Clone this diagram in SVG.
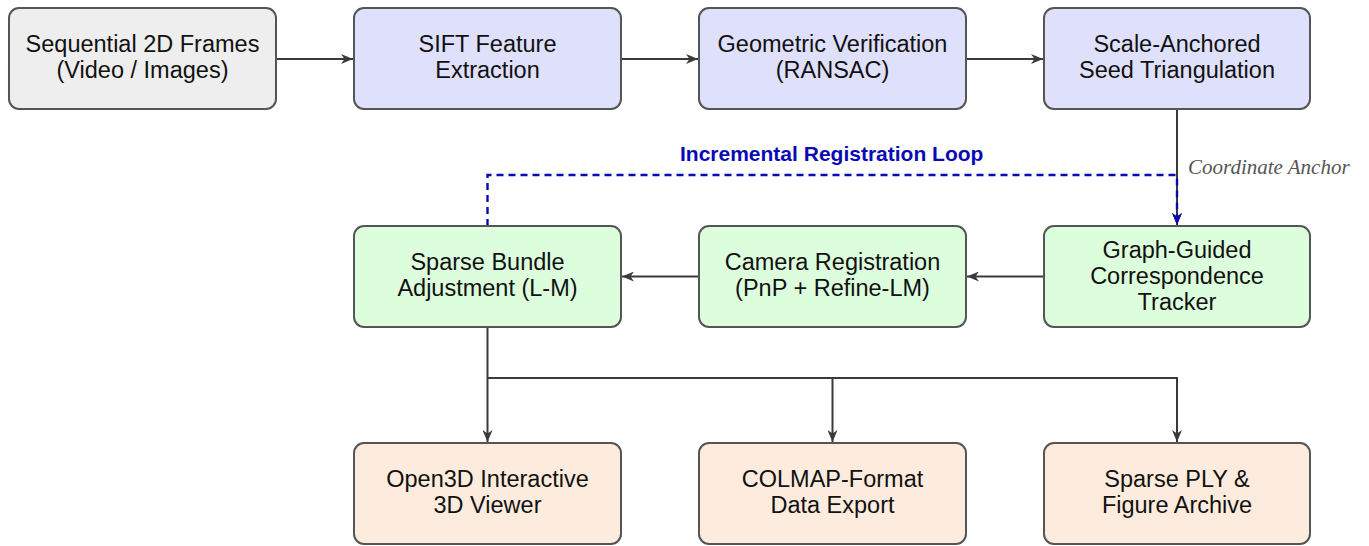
<svg xmlns="http://www.w3.org/2000/svg" width="1369" height="546" viewBox="0 0 1369 546">
  <defs>
    <style>
      .box { stroke: #555555; stroke-width: 2; }
      .input { fill: #eeeeee; }
      .front { fill: #dfe0fb; }
      .core { fill: #ddfedd; }
      .out { fill: #fdecdd; }
      .lbl { font-family: "Liberation Sans", Arial, sans-serif; font-size: 23.5px; fill: #111111; text-anchor: middle; }
      .edge { fill: none; stroke: #3a3a3a; stroke-width: 2; }
      .loop { fill: none; stroke: #0a0ab4; stroke-width: 2.4; stroke-dasharray: 7 5; }
      .loop-lbl { font-family: "Liberation Sans", Arial, sans-serif; font-size: 21px; font-weight: bold; fill: #0a0ab4; }
      .note { font-family: "Liberation Serif", "Times New Roman", serif; font-size: 21px; font-style: italic; fill: #555555; }
    </style>
    <marker id="arrow" viewBox="0 0 12 10" refX="12" refY="5" markerWidth="12" markerHeight="10" markerUnits="userSpaceOnUse" orient="auto">
      <path d="M0,0 L12,5 L0,10 L3.5,5 Z" fill="#3a3a3a"/>
    </marker>
    <marker id="arrow-blue" viewBox="0 0 12 10" refX="12" refY="5" markerWidth="12" markerHeight="10" markerUnits="userSpaceOnUse" orient="auto">
      <path d="M0,0 L12,5 L0,10 L3.5,5 Z" fill="#0a0ab4"/>
    </marker>
  </defs>

  <rect width="1369" height="546" fill="#ffffff"/>

  <!-- connectors -->
  <g id="connectors">
    <line class="edge" x1="276" y1="59" x2="353" y2="59" marker-end="url(#arrow)"/>
    <line class="edge" x1="621" y1="59" x2="698" y2="59" marker-end="url(#arrow)"/>
    <line class="edge" x1="966" y1="59" x2="1043" y2="59" marker-end="url(#arrow)"/>
    <line class="edge" x1="1177" y1="109" x2="1177" y2="225" marker-end="url(#arrow)"/>
    <line class="edge" x1="1044" y1="276.5" x2="967" y2="276.5" marker-end="url(#arrow)"/>
    <line class="edge" x1="699" y1="276.5" x2="622" y2="276.5" marker-end="url(#arrow)"/>
    <!-- fan-out to outputs -->
    <line class="edge" x1="487.5" y1="327" x2="487.5" y2="442" marker-end="url(#arrow)"/>
    <line class="edge" x1="487.5" y1="378" x2="1177" y2="378"/>
    <line class="edge" x1="832.5" y1="378" x2="832.5" y2="442" marker-end="url(#arrow)"/>
    <line class="edge" x1="1177" y1="377" x2="1177" y2="442" marker-end="url(#arrow)"/>
    <!-- incremental loop -->
    <path class="loop" d="M487.5,226 V175 H1177 V225" marker-end="url(#arrow-blue)"/>
    <text class="loop-lbl" x="680" y="161">Incremental Registration Loop</text>
    <text class="note" x="1188" y="174">Coordinate Anchor</text>
  </g>

  <g id="frames">
    <rect class="box input" x="9" y="8" width="267" height="101" rx="10"/>
    <text class="lbl" x="142.5" y="52">Sequential 2D Frames</text>
    <text class="lbl" x="142.5" y="78">(Video / Images)</text>
  </g>
  <g id="sift">
    <rect class="box front" x="354" y="8" width="267" height="101" rx="10"/>
    <text class="lbl" x="487.5" y="52">SIFT Feature</text>
    <text class="lbl" x="487.5" y="78">Extraction</text>
  </g>
  <g id="ransac">
    <rect class="box front" x="699" y="8" width="267" height="101" rx="10"/>
    <text class="lbl" x="832.5" y="52">Geometric Verification</text>
    <text class="lbl" x="832.5" y="78">(RANSAC)</text>
  </g>
  <g id="seed">
    <rect class="box front" x="1044" y="8" width="266" height="101" rx="10"/>
    <text class="lbl" x="1177" y="52">Scale-Anchored</text>
    <text class="lbl" x="1177" y="78">Seed Triangulation</text>
  </g>

  <g id="bundle">
    <rect class="box core" x="354" y="226" width="267" height="101" rx="10"/>
    <text class="lbl" x="487.5" y="270">Sparse Bundle</text>
    <text class="lbl" x="487.5" y="296">Adjustment (L-M)</text>
  </g>
  <g id="register">
    <rect class="box core" x="699" y="226" width="267" height="101" rx="10"/>
    <text class="lbl" x="832.5" y="270">Camera Registration</text>
    <text class="lbl" x="832.5" y="296">(PnP + Refine-LM)</text>
  </g>
  <g id="tracker">
    <rect class="box core" x="1044" y="226" width="266" height="101" rx="10"/>
    <text class="lbl" x="1177" y="258">Graph-Guided</text>
    <text class="lbl" x="1177" y="284">Correspondence</text>
    <text class="lbl" x="1177" y="310">Tracker</text>
  </g>

  <g id="viewer">
    <rect class="box out" x="354" y="443" width="267" height="101" rx="10"/>
    <text class="lbl" x="487.5" y="487">Open3D Interactive</text>
    <text class="lbl" x="487.5" y="513">3D Viewer</text>
  </g>
  <g id="colmap">
    <rect class="box out" x="699" y="443" width="267" height="101" rx="10"/>
    <text class="lbl" x="832.5" y="487">COLMAP-Format</text>
    <text class="lbl" x="832.5" y="513">Data Export</text>
  </g>
  <g id="archive">
    <rect class="box out" x="1044" y="443" width="266" height="101" rx="10"/>
    <text class="lbl" x="1177" y="487">Sparse PLY &amp;</text>
    <text class="lbl" x="1177" y="513">Figure Archive</text>
  </g>
</svg>
